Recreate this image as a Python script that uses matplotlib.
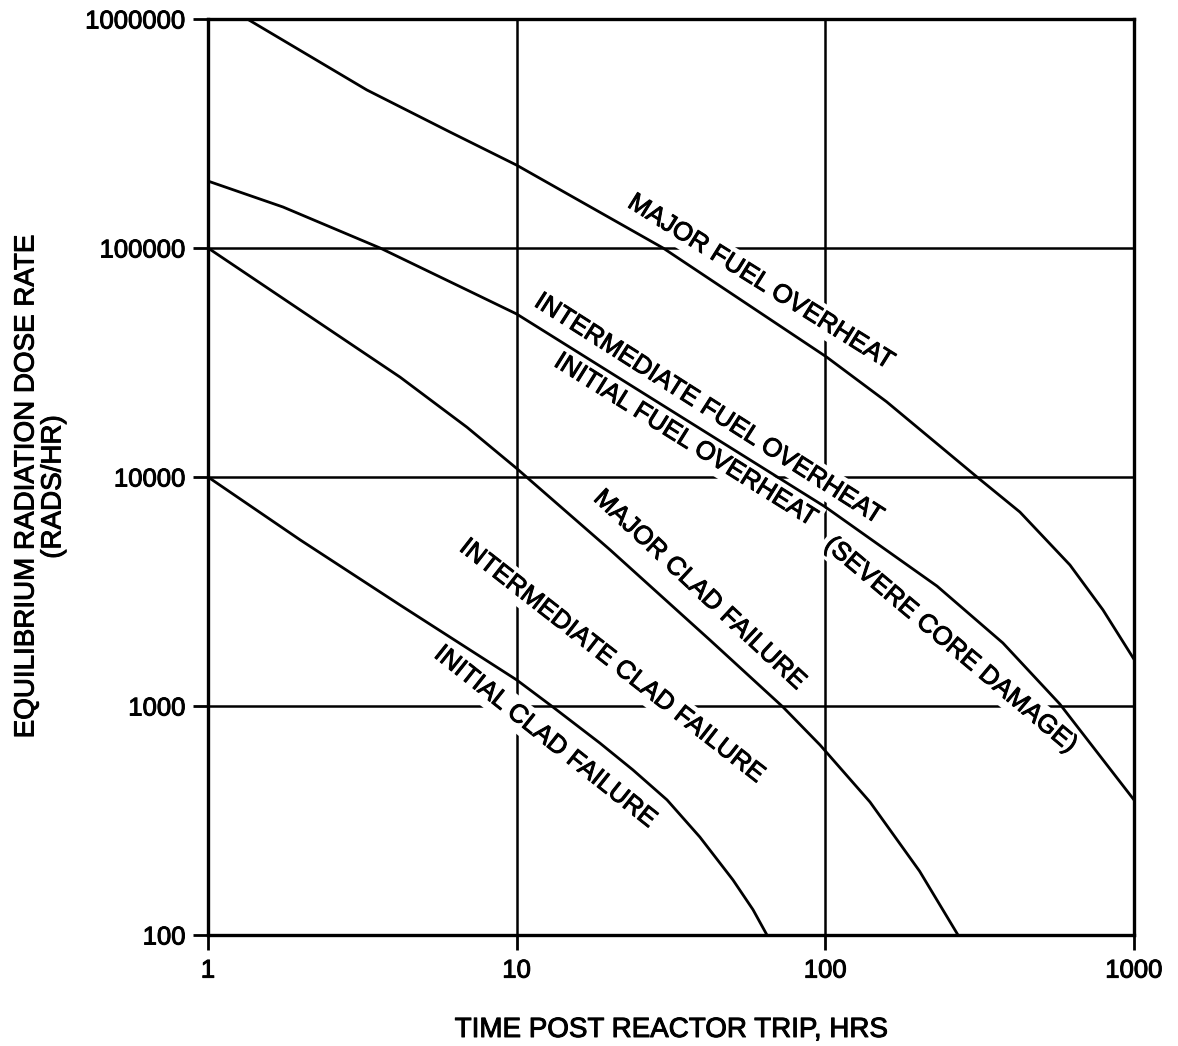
import matplotlib
matplotlib.use("Agg")
import matplotlib.pyplot as plt
import matplotlib.patheffects as pe

plt.rcParams['font.family'] = ['Liberation Sans', 'DejaVu Sans']

# dose rate curves (hours, rads/hr)
major_fuel_t = [1.34, 3.27, 6.08, 10, 29.8, 101, 158, 310, 427, 620, 793, 1000]
major_fuel_r = [1e6, 490000, 321000, 230000, 100000, 33400, 21300, 10000, 7030, 4130, 2630, 1600]

inter_fuel_t = [1, 1.75, 3.61, 6.9, 10, 100, 230, 376, 575, 1000]
inter_fuel_r = [196000, 151000, 100000, 65600, 51500, 7400, 3340, 1885, 1020, 389]

major_clad_t = [1, 1.99, 4.19, 6.9, 10, 20.1, 42.3, 72.9, 96.1, 139.5, 202, 269]
major_clad_r = [100000, 53600, 27300, 16500, 10900, 4800, 1940, 990, 676, 381, 190, 100]

init_clad_t = [1, 1.99, 4.19, 10, 13.1, 18.6, 23.8, 30.7, 39.2, 50.2, 58.3, 64.7]
init_clad_r = [10000, 5310, 2760, 1300, 990, 689, 526, 389, 268, 174, 129, 100]

xticks = [1, 10, 100, 1000]
xticklabels = ['1', '10', '100', '1000']
yticks = [100, 1000, 10000, 100000, 1000000]
yticklabels = ['100', '1000', '10000', '100000', '1000000']

# curve labels: text, centre (hours, rads/hr), angle
labels = [
    ("MAJOR FUEL OVERHEAT", 61.9, 71000, -32),
    ("INTERMEDIATE FUEL OVERHEAT", 42.0, 19800, -32.5),
    ("INITIAL FUEL OVERHEAT", 35.3, 14500, -32),
    ("(SEVERE CORE DAMAGE)", 255, 1850, -40),
    ("MAJOR CLAD FAILURE", 39.2, 3210, -43),
    ("INTERMEDIATE CLAD FAILURE", 20.4, 1570, -38),
    ("INITIAL CLAD FAILURE", 12.4, 733, -38.5),
]

heavy = [pe.withStroke(linewidth=0.7, foreground='black')]

fig = plt.figure(figsize=(11.78, 10.46), dpi=100)
ax = fig.add_axes([208 / 1178, 1 - 935 / 1046, 926 / 1178, 916 / 1046])
ax.set_xscale('log')
ax.set_yscale('log')
ax.set_xlim(1, 1000)
ax.set_ylim(100, 1000000)

ax.set_xticks(xticks)
ax.set_xticklabels(xticklabels)
ax.set_yticks(yticks)
ax.set_yticklabels(yticklabels)
ax.minorticks_off()
ax.tick_params(axis='both', direction='out', length=11, width=2, labelsize=18.5, color='black')
ax.tick_params(axis='x', pad=6)
ax.tick_params(axis='y', pad=5)
for t in ax.get_xticklabels() + ax.get_yticklabels():
    t.set_path_effects(heavy)

ax.set_axisbelow(True)
ax.grid(True, which='major', color='black', lw=1.8)
for sp in ax.spines.values():
    sp.set_linewidth(2.4)

line_kw = dict(color='black', lw=2.0, zorder=3)
ax.plot(major_fuel_t, major_fuel_r, **line_kw)
ax.plot(inter_fuel_t, inter_fuel_r, **line_kw)
ax.plot(major_clad_t, major_clad_r, **line_kw)
ax.plot(init_clad_t, init_clad_r, **line_kw)

for txt, tx, ty, ang in labels:
    ax.text(tx, ty, txt, rotation=ang, rotation_mode='anchor', ha='center', va='center',
            fontsize=18.5, zorder=2, path_effects=heavy,
            bbox=dict(boxstyle='square,pad=0.15', fc='white', ec='none'))

fig.text(671 / 1178, 1 - 1030 / 1046, "TIME POST REACTOR TRIP, HRS", fontsize=20,
         ha='center', va='center', path_effects=heavy)
fig.text(40 / 1178, 1 - 487 / 1046, "EQUILIBRIUM RADIATION DOSE RATE\n(RADS/HR)",
         fontsize=20, rotation=90, ha='center', va='center', multialignment='center',
         linespacing=1.05, path_effects=heavy)

fig.savefig("out.png", dpi=100, facecolor='white')
